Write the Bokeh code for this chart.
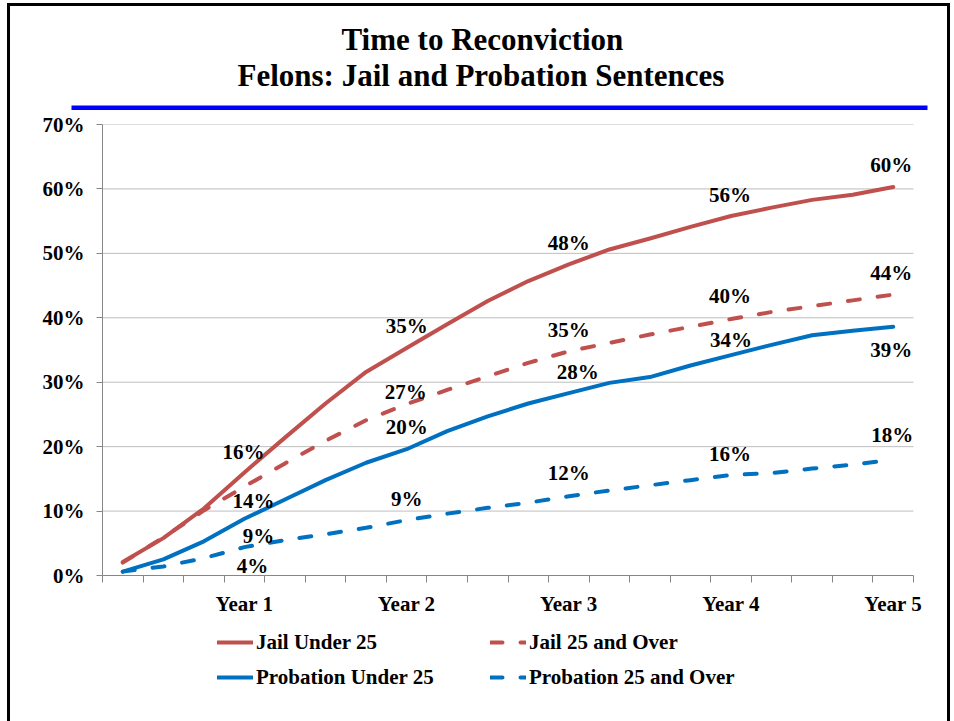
from bokeh.plotting import figure
from bokeh.models import (Range1d, FixedTicker, PrintfTickFormatter, Legend,
                          LegendItem, Title, ColumnDataSource)
from bokeh.layouts import column
from bokeh.core.properties import value
from bokeh.embed import file_html
from bokeh.resources import INLINE

# ---------------- data ----------------
title_line1 = "Time to Reconviction"
title_line2 = "Felons: Jail and Probation Sentences"

quarters = [1, 2, 3, 4, 5, 6, 7, 8, 9, 10, 11, 12, 13, 14, 15, 16, 17, 18, 19, 20]
year_quarters = [4, 8, 12, 16, 20]
year_labels = ["Year 1", "Year 2", "Year 3", "Year 4", "Year 5"]
y_ticks = [0, 10, 20, 30, 40, 50, 60, 70]

series_names = ["Jail Under 25", "Jail 25 and Over",
                "Probation Under 25", "Probation 25 and Over"]
jail_under_25 = [2.1, 5.8, 10.4, 16.0, 21.4, 26.7, 31.6, 35.3, 39.0, 42.6,
                 45.7, 48.3, 50.6, 52.3, 54.1, 55.8, 57.1, 58.3, 59.1, 60.3]
jail_25_over = [2.0, 5.9, 10.1, 13.8, 17.4, 20.9, 24.1, 26.6, 28.8, 30.9,
                33.0, 34.8, 36.1, 37.4, 38.6, 39.8, 40.9, 41.8, 42.7, 43.6]
probation_under_25 = [0.6, 2.5, 5.3, 8.8, 11.8, 14.8, 17.5, 19.6, 22.4, 24.7,
                      26.7, 28.3, 29.9, 30.8, 32.6, 34.2, 35.8, 37.3, 38.0, 38.6]
probation_25_over = [0.6, 1.4, 2.7, 4.4, 5.5, 6.4, 7.4, 8.6, 9.6, 10.5,
                     11.3, 12.3, 13.2, 14.0, 14.8, 15.6, 15.9, 16.6, 17.2, 18.0]
series_values = [jail_under_25, jail_25_over, probation_under_25, probation_25_over]

# ---------------- styles / layout ----------------
RED = "#C0504D"
BLUE = "#0070C0"
RULE_BLUE = "#0000FF"
series_colors = [RED, RED, BLUE, BLUE]
series_dash = ["solid", "12 18", "solid", "12 18"]
FONT = "Liberation Serif"
GRAY_AXIS = "#868686"
GRAY_GRID = "#BEBEBE"

# data-label pixel offsets (per series, per year), +dy = downward
label_dx = [[-1, 0, 0, -1, -2],
            [9, -1, 0, -1, -2],
            [14, 0, 9, 0, -2],
            [8, 0, 0, -1, -1]]
label_dy = [[-20, -22, -21, -21, -22],
            [14, -12, -21, -23, -22],
            [17, -22, -21, -15, 23],
            [19, -21, -23, -21, -25]]

W = 954
# --- block 1: titles + blue rule (frame == the rule) ---
T_H = 110
RULE_L, RULE_R, RULE_T = 71, 927, 105
# --- block 2: chart ---
C_H = 508
AX_L, AX_R = 102, 913       # category axis extent (page px)
FRAME_R = 927
C_TOP, C_BOT = 14, 43       # borders around the plot area
# --- block 3: legend ---
L_H = 103

common = dict(toolbar_location=None, output_backend="svg", frame_align=False)

pt = figure(width=W, height=T_H, x_range=Range1d(0, 1), y_range=Range1d(0, 1),
            x_axis_type=None, y_axis_type=None,
            min_border_left=RULE_L, min_border_right=W - RULE_R,
            min_border_top=RULE_T, min_border_bottom=0,
            background_fill_color=RULE_BLUE, border_fill_alpha=0,
            outline_line_color=None, **common)
pt.grid.visible = False
pt.add_layout(Title(text=title_line2, align="left", offset=166,
                    text_font=FONT, text_font_style="bold",
                    text_font_size="31px", text_color="black", standoff=26), "above")
pt.add_layout(Title(text=title_line1, align="left", offset=270,
                    text_font=FONT, text_font_style="bold",
                    text_font_size="31px", text_color="black", standoff=-28), "above")

# ---------------- chart ----------------
x_lo, x_hi = quarters[0] - 0.5, quarters[-1] + 0.5
px_x = (AX_R - AX_L) / (x_hi - x_lo)
p = figure(width=W, height=C_H,
           x_range=Range1d(x_lo, x_hi + (FRAME_R - AX_R) / px_x),
           y_range=Range1d(y_ticks[0], y_ticks[-1]),
           min_border_left=AX_L, min_border_right=W - FRAME_R,
           min_border_top=C_TOP, min_border_bottom=C_BOT,
           outline_line_color=None, background_fill_alpha=0,
           border_fill_alpha=0, **common)

edges = [q - 0.5 for q in quarters] + [quarters[-1] + 0.5]
p.xaxis.ticker = FixedTicker(ticks=year_quarters, minor_ticks=edges)
p.xaxis.major_label_overrides = {q: lab for q, lab in zip(year_quarters, year_labels)}
p.xaxis.bounds = (x_lo, x_hi)
p.xaxis.major_tick_in = 0
p.xaxis.major_tick_out = 0
p.xaxis.minor_tick_in = 0
p.xaxis.minor_tick_out = 7
p.xaxis.major_label_standoff = 9

p.yaxis.ticker = FixedTicker(ticks=y_ticks)
p.yaxis.formatter = PrintfTickFormatter(format="%d%%")
p.yaxis.major_tick_in = 0
p.yaxis.major_tick_out = 6
p.yaxis.minor_tick_out = 0
p.yaxis.minor_tick_in = 0
p.yaxis.major_label_standoff = 12

for ax in (p.xaxis[0], p.yaxis[0]):
    ax.axis_line_color = GRAY_AXIS
    ax.major_tick_line_color = GRAY_AXIS
    ax.minor_tick_line_color = GRAY_AXIS
    ax.major_label_text_font = FONT
    ax.major_label_text_font_style = "bold"
    ax.major_label_text_font_size = "21px"
    ax.major_label_text_color = "black"

p.grid.visible = False
grid_src = ColumnDataSource(dict(y=y_ticks[1:], x0=[x_lo] * (len(y_ticks) - 1),
                                 x1=[x_hi] * (len(y_ticks) - 1)))
p.segment(x0="x0", x1="x1", y0="y", y1="y", source=grid_src,
          line_color=GRAY_GRID, line_width=1)

line_kw = [dict(line_color=c, line_width=4, line_dash=d, line_cap="round",
                line_join="round") for c, d in zip(series_colors, series_dash)]
for vals, kw in zip(series_values, line_kw):
    p.line(quarters, vals, **kw)

# data labels at the year marks
lx, ly, lt, ldx, ldy = [], [], [], [], []
for si, vals in enumerate(series_values):
    for yi, q in enumerate(year_quarters):
        v = vals[quarters.index(q)]
        lx.append(q)
        ly.append(v)
        lt.append(f"{round(v):d}%")
        ldx.append(label_dx[si][yi])
        ldy.append(label_dy[si][yi])
src = ColumnDataSource(dict(x=lx, y=ly, text=lt, dx=ldx, dy=ldy))
p.text(x="x", y="y", text="text", x_offset="dx", y_offset="dy", source=src,
       text_font=value(FONT), text_font_style="bold", text_font_size="21px",
       text_color="black", text_align="center", text_baseline="middle")

# ---------------- legend block ----------------
pl = figure(width=W, height=L_H, x_range=Range1d(-2, -1), y_range=Range1d(-2, -1),
            x_axis_type=None, y_axis_type=None,
            min_border_left=0, min_border_right=0, min_border_top=0,
            min_border_bottom=0, outline_line_color=None,
            background_fill_alpha=0, border_fill_alpha=0, **common)
pl.grid.visible = False
leg_renderers = [pl.line(quarters, vals, **kw) for vals, kw in zip(series_values, line_kw)]
legend = Legend(items=[LegendItem(label=n, renderers=[r])
                       for n, r in zip(series_names, leg_renderers)],
                location=(217, 28), orientation="horizontal", ncols=2,
                glyph_width=36, glyph_height=32, label_height=32,
                label_width=231, label_standoff=3, spacing=3, padding=0,
                margin=0, border_line_color=None, background_fill_alpha=0,
                label_text_font=FONT, label_text_font_style="bold",
                label_text_font_size="21px", label_text_color="black")
pl.add_layout(legend)

layout = column(pt, p, pl, spacing=0,
                styles={"box-shadow": ("inset 7px 0 0 0 white, inset 0 3px 0 0 white, "
                                       "inset -4px 0 0 0 white, inset 10px 0 0 0 black, "
                                       "inset 0 6px 0 0 black, inset -7px 0 0 0 black")})

with open("out.html", "w") as f:
    f.write(file_html(layout, INLINE))
